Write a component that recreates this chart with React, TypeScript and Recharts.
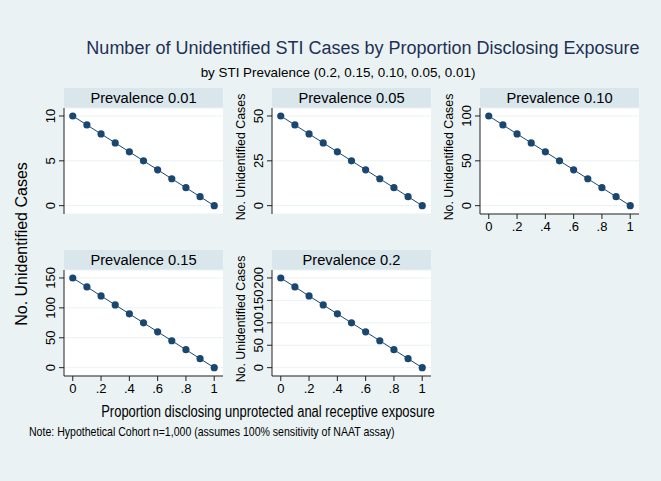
import React from 'react';
import { LineChart, Line, XAxis, YAxis, CartesianGrid } from 'recharts';

// proportion disclosing exposure
const proportions = [0, 0.1, 0.2, 0.3, 0.4, 0.5, 0.6, 0.7, 0.8, 0.9, 1];

// unidentified cases per panel
const cases001 = [10, 9, 8, 7, 6, 5, 4, 3, 2, 1, 0];
const cases005 = [50, 45, 40, 35, 30, 25, 20, 15, 10, 5, 0];
const cases010 = [100, 90, 80, 70, 60, 50, 40, 30, 20, 10, 0];
const cases015 = [150, 135, 120, 105, 90, 75, 60, 45, 30, 15, 0];
const cases020 = [200, 180, 160, 140, 120, 100, 80, 60, 40, 20, 0];

const ticks001 = [0, 5, 10];
const ticks005 = [0, 25, 50];
const ticks010 = [0, 50, 100];
const ticks015 = [0, 50, 100, 150];
const ticks020 = [0, 50, 100, 150, 200];
const xTicks = [0, 0.2, 0.4, 0.6, 0.8, 1];

const FONT = '"Liberation Sans", Arial, Helvetica, sans-serif';
const NAVY = '#1a476f';
const BG = '#eaf2f3';
const STRIP = '#d9e6eb';

const PW = 159; // plot width
const PH = 106; // plot height
const AXW = 60; // y axis area
const XH = 30;
const PAD = 16; // room for rotated labels above/below the plot

const fmtX = (v: number) => (v === 0 ? '0' : v === 1 ? '1' : String(v).replace(/^0/, ''));

const YTick = (props: any) => {
  const { x, y, payload } = props;
  return (
    <text
      transform={`translate(${x},${y}) rotate(-90)`}
      textAnchor="middle"
      fontSize={13}
      fontFamily={FONT}
      fill="#000"
    >
      {payload.value}
    </text>
  );
};

const Rotated = ({ cx, cy, size, children }: any) => (
  <div
    style={{
      position: 'absolute',
      left: cx,
      top: cy,
      transform: 'translate(-50%, -50%) rotate(-90deg)',
      whiteSpace: 'nowrap',
      fontSize: size,
      fontFamily: FONT,
      color: '#000',
      lineHeight: 1,
    }}
  >
    {children}
  </div>
);

interface PanelProps {
  left: number;
  top: number;
  values: number[];
  yTicks: number[];
  title: string;
  showX: boolean;
  smallTitle: boolean;
}

const Panel = ({ left, top, values, yTicks, title, showX, smallTitle }: PanelProps) => {
  const max = yTicks[yTicks.length - 1];
  const data = proportions.map((p, i) => ({ p, v: values[i] }));
  return (
    <>
      <div
        style={{
          position: 'absolute',
          left,
          top: top - 20,
          width: PW,
          height: 20,
          background: STRIP,
          fontFamily: FONT,
          fontSize: 14.7,
          lineHeight: '20px',
          textAlign: 'center',
          color: '#000',
        }}
      >
        {title}
      </div>
      {smallTitle && (
        <Rotated cx={left - 31} cy={top + 49} size={12.4}>
          No. Unidentified Cases
        </Rotated>
      )}
      <div style={{ position: 'absolute', left: left - AXW, top: top - PAD }}>
        <LineChart
          width={AXW + PW}
          height={PAD + PH + (showX ? XH : PAD)}
          data={data}
          margin={{ top: PAD, right: 0, bottom: showX ? 0 : PAD, left: 0 }}
        >
          <CartesianGrid fill="#ffffff" stroke={BG} vertical={false} />
          <XAxis
            dataKey="p"
            type="number"
            domain={[-0.062, 1.062]}
            allowDataOverflow
            ticks={xTicks}
            interval={0}
            tickFormatter={fmtX}
            hide={!showX}
            height={XH}
            tickSize={5}
            tickMargin={3}
            stroke="#222"
            tick={{ fontSize: 13, fontFamily: FONT, fill: '#000' }}
          />
          <YAxis
            type="number"
            domain={[-0.093 * max, 1.089 * max]}
            allowDataOverflow
            ticks={yTicks}
            interval={0}
            width={AXW}
            tickSize={5}
            tickMargin={4}
            stroke="#222"
            tick={<YTick />}
          />
          <Line
            type="linear"
            dataKey="v"
            stroke={NAVY}
            strokeWidth={1}
            dot={{ r: 3.6, fill: NAVY, stroke: NAVY, strokeWidth: 0 }}
            isAnimationActive={false}
          />
        </LineChart>
      </div>
    </>
  );
};

export default function App() {
  return (
    <div
      style={{
        position: 'absolute',
        left: 0,
        top: 0,
        width: 661,
        height: 481,
        background: BG,
        overflow: 'hidden',
        fontFamily: FONT,
      }}
    >
      <div
        style={{
          position: 'absolute',
          left: 363,
          top: 48,
          transform: 'translate(-50%, -50%)',
          whiteSpace: 'nowrap',
          fontSize: 18,
          color: '#1e3054',
        }}
      >
        Number of Unidentified STI Cases by Proportion Disclosing Exposure
      </div>
      <div
        style={{
          position: 'absolute',
          left: 338,
          top: 72,
          transform: 'translate(-50%, -50%)',
          whiteSpace: 'nowrap',
          fontSize: 13.4,
          color: '#000',
        }}
      >
        by STI Prevalence (0.2, 0.15, 0.10, 0.05, 0.01)
      </div>

      <Panel left={64} top={108} values={cases001} yTicks={ticks001} title="Prevalence 0.01" showX={false} smallTitle={false} />
      <Panel left={272} top={108} values={cases005} yTicks={ticks005} title="Prevalence 0.05" showX={false} smallTitle />
      <Panel left={480} top={108} values={cases010} yTicks={ticks010} title="Prevalence 0.10" showX smallTitle />
      <Panel left={64} top={270} values={cases015} yTicks={ticks015} title="Prevalence 0.15" showX smallTitle={false} />
      <Panel left={272} top={270} values={cases020} yTicks={ticks020} title="Prevalence 0.2" showX smallTitle />

      <Rotated cx={22} cy={244} size={16}>
        No. Unidentified Cases
      </Rotated>

      <div
        style={{
          position: 'absolute',
          left: 268,
          top: 412,
          transform: 'translate(-50%, -50%) scaleX(0.81)',
          whiteSpace: 'nowrap',
          fontSize: 16,
          color: '#000',
        }}
      >
        Proportion disclosing unprotected anal receptive exposure
      </div>
      <div
        style={{
          position: 'absolute',
          left: 29,
          top: 431,
          transform: 'translateY(-50%) scaleX(0.825)',
          transformOrigin: 'left center',
          whiteSpace: 'nowrap',
          fontSize: 12.8,
          color: '#000',
        }}
      >
        Note: Hypothetical Cohort n=1,000 (assumes 100% sensitivity of NAAT assay)
      </div>
    </div>
  );
}
